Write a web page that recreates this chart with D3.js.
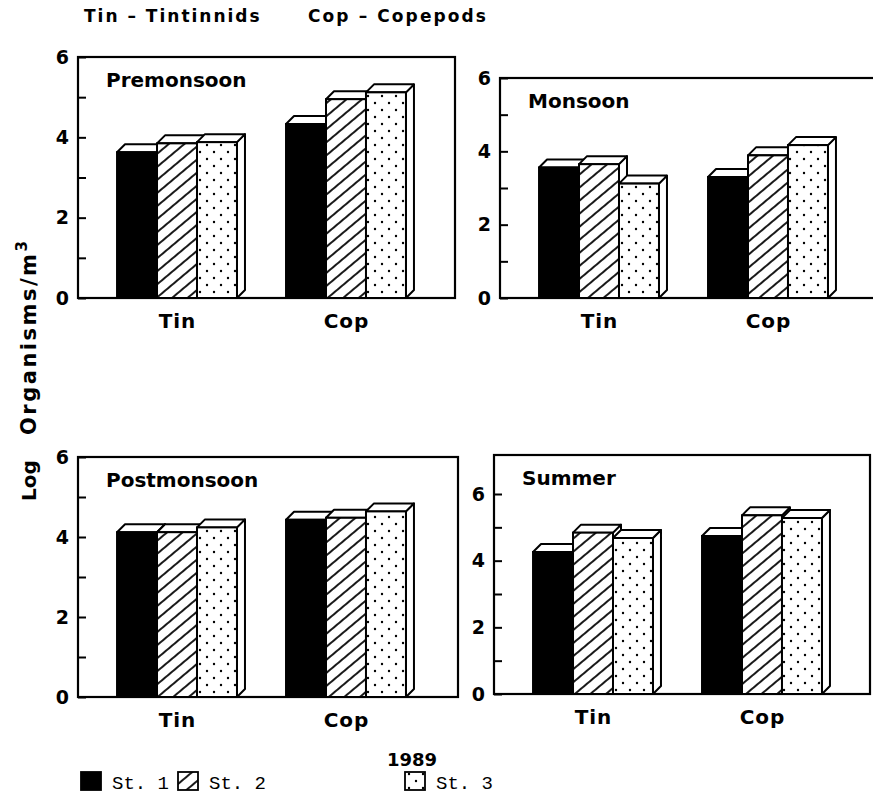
<!DOCTYPE html>
<html>
<head>
<meta charset="utf-8">
<script src="https://cdn.jsdelivr.net/npm/d3@7"></script>
<style>
body { margin: 0; background: #fff; }
svg text { font-family: "DejaVu Sans", sans-serif; font-weight: bold; fill: #000; }
svg text.mono { font-family: "Liberation Mono", monospace; font-weight: normal; }
</style>
</head>
<body>
<div id="canvas"></div>
<script>
// data (log organisms / m3, 1989)
const groups = ["Tin", "Cop"]
const stations = ["St. 1", "St. 2", "St. 3"]
const premonsoon = [[3.63, 3.85, 3.88], [4.33, 4.95, 5.12]]
const monsoon = [[3.56, 3.65, 3.12], [3.30, 3.89, 4.17]]
const postmonsoon = [[4.12, 4.12, 4.24], [4.43, 4.48, 4.64]]
const summer = [[4.26, 4.84, 4.68], [4.74, 5.36, 5.28]]
const yTicks = [0, 1, 2, 3, 4, 5, 6]

// panel boxes on the page
const panels = [
    { name: "Premonsoon", vals: premonsoon, ymax: 6, x: 78, y: 57, w: 377, h: 241 },
    { name: "Monsoon", vals: monsoon, ymax: 6, x: 500, y: 78, w: 385, h: 220 },
    { name: "Postmonsoon", vals: postmonsoon, ymax: 6, x: 78, y: 457, w: 380, h: 240 },
    { name: "Summer", vals: summer, ymax: 7.17, x: 494, y: 455, w: 376, h: 239 }
]

const dx = 8, dy = 8 // 3d depth of the bars

let svg = d3.select('#canvas').append('svg')
    .attr('width', 873).attr('height', 800)

let defs = svg.append('defs')
let hatch = defs.append('pattern').attr('id', 'hatch')
    .attr('patternUnits', 'userSpaceOnUse')
    .attr('width', 10).attr('height', 10)
    .attr('patternTransform', 'rotate(-40)')
hatch.append('rect').attr('width', 10).attr('height', 10).attr('fill', '#fff')
hatch.append('line').attr('x1', 0).attr('y1', 5).attr('x2', 10).attr('y2', 5)
    .attr('stroke', '#000').attr('stroke-width', 1.8)

let dots = defs.append('pattern').attr('id', 'dots')
    .attr('patternUnits', 'userSpaceOnUse')
    .attr('width', 14).attr('height', 14)
dots.append('rect').attr('width', 14).attr('height', 14).attr('fill', '#fff')
dots.append('circle').attr('cx', 3).attr('cy', 4).attr('r', 1.2).attr('fill', '#000')
dots.append('circle').attr('cx', 10).attr('cy', 11).attr('r', 1.2).attr('fill', '#000')

const fills = ['#000', 'url(#hatch)', 'url(#dots)']

panels.forEach(p => {
    let g = svg.append('g').attr('transform', `translate(${p.x}, ${p.y})`)

    let y = d3.scaleLinear().domain([0, p.ymax]).range([p.h, 0])
    let x0 = d3.scaleBand().domain(groups).range([0, 376])
        .paddingInner(0.237).paddingOuter(0.231)
    let x1 = d3.scaleBand().domain(stations).range([0, x0.bandwidth() - dx - 1])

    g.append('rect')
        .attr('width', p.w).attr('height', p.h)
        .attr('fill', 'none').attr('stroke', '#000').attr('stroke-width', 2.2)

    let yAxis = d3.axisLeft(y)
        .tickValues(yTicks)
        .tickSizeInner(-8).tickSizeOuter(0).tickPadding(9)
        .tickFormat(d => d % 2 ? '' : d)
    let ax = g.append('g').call(yAxis)
    ax.select('.domain').remove()
    ax.selectAll('line').attr('stroke-width', 2)
    ax.selectAll('text').style('font-size', '19px')
        .style('font-family', '"DejaVu Sans", sans-serif').style('font-weight', 'bold')

    g.append('text').attr('x', 28).attr('y', 30)
        .style('font-size', '20px').text(p.name)

    groups.forEach((grp, gi) => {
        let bg = g.append('g')
        p.vals[gi].forEach((v, si) => {
            let x = x0(grp) + x1(stations[si])
            let w = x1.bandwidth()
            let t = y(v), b = y(0)
            bg.append('polygon')
                .attr('points', [[x + w, t], [x + w + dx, t - dy], [x + w + dx, b - dy], [x + w, b]].join(' '))
                .attr('fill', '#fff').attr('stroke', '#000').attr('stroke-width', 2)
                .attr('stroke-linejoin', 'round')
            bg.append('polygon')
                .attr('points', [[x, t], [x + w, t], [x + w + dx, t - dy], [x + dx, t - dy]].join(' '))
                .attr('fill', '#fff').attr('stroke', '#000').attr('stroke-width', 2)
                .attr('stroke-linejoin', 'round')
            bg.append('rect')
                .attr('x', x).attr('y', t).attr('width', w).attr('height', b - t)
                .attr('fill', fills[si]).attr('stroke', '#000').attr('stroke-width', 2)
        })
        g.append('text')
            .attr('x', x0(grp) + (x0.bandwidth() - dx) / 2)
            .attr('y', p.h + 30)
            .attr('text-anchor', 'middle')
            .style('font-size', '20px').style('letter-spacing', '1px')
            .text(grp)
    })
})

// header
svg.append('text').attr('x', 84).attr('y', 22)
    .style('font-size', '17px').style('letter-spacing', '2px')
    .text('Tin – Tintinnids')
svg.append('text').attr('x', 308).attr('y', 22)
    .style('font-size', '17px').style('letter-spacing', '2.1px')
    .text('Cop – Copepods')

// y label
svg.append('text')
    .attr('transform', 'translate(36, 501) rotate(-90)')
    .style('font-size', '20px')
    .text('Log')
let yl = svg.append('text')
    .attr('transform', 'translate(36, 435) rotate(-90)')
    .style('font-size', '21px').style('letter-spacing', '2.5px')
yl.append('tspan').text('Organisms/m')
yl.append('tspan').attr('dy', -9).style('font-size', '15px').text('3')

svg.append('text').attr('x', 412).attr('y', 766).attr('text-anchor', 'middle')
    .style('font-size', '18px').text('1989')

// legend
const legendX = [81, 178, 405]
stations.forEach((s, i) => {
    svg.append('rect')
        .attr('x', legendX[i]).attr('y', 772).attr('width', 20).attr('height', 18)
        .attr('fill', fills[i]).attr('stroke', '#000').attr('stroke-width', 1.8)
    svg.append('text').attr('class', 'mono')
        .attr('x', legendX[i] + 31).attr('y', 789)
        .style('font-size', '19px')
        .text(s)
})
</script>
</body>
</html>
